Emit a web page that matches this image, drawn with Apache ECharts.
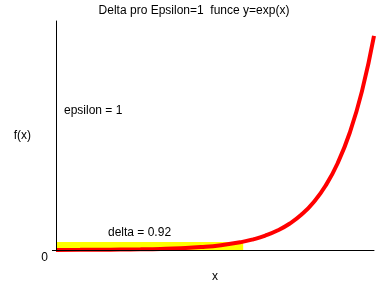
<!DOCTYPE html>
<html>
<head>
<meta charset="utf-8">
<script src="https://cdn.jsdelivr.net/npm/echarts@6/dist/echarts.min.js"></script>
<style>html,body{margin:0;padding:0;background:#fff}#c{width:388px;height:288px}</style>
</head>
<body>
<div id="c"></div>
<script>
// curve samples y = exp(x)
var xValues = [-4.6, -4.0, -3.5, -3.0, -2.5, -2.0, -1.5, -1.0, -0.5, 0, 0.3, 0.6, 0.9, 1.2, 1.5, 1.8, 2.1, 2.4, 2.7, 3.0, 3.3];
var yValues = [0.010, 0.018, 0.030, 0.050, 0.082, 0.135, 0.223, 0.368, 0.607, 1.000, 1.350, 1.822, 2.460, 3.320, 4.482, 6.050, 8.166, 11.023, 14.880, 20.086, 27.113];
// yellow band: x from start to delta end, height epsilon
var bandX = [-4.6, 0.05];
var bandY = [0, 1];
var yTickValues = [0];
var titleText = 'Delta pro Epsilon=1  funce y=exp(x)';
var epsilonText = 'epsilon = 1';
var deltaText = 'delta = 0.92';

var FONT = '"Liberation Sans", Arial, sans-serif';
var pts = xValues.map(function (x, i) { return [x, yValues[i]]; });

var chart = echarts.init(document.getElementById('c'), null, {renderer: 'canvas'});
chart.setOption({
  backgroundColor: '#ffffff',
  animation: false,
  title: {
    text: titleText, left: 'center', top: 0,
    textStyle: {fontSize: 12, fontWeight: 'normal', color: '#000', fontFamily: FONT}
  },
  grid: {left: 56, right: 14, top: 21, bottom: 36},
  xAxis: {
    type: 'value', min: -4.6, max: 3.3, z: 10,
    name: 'x', nameLocation: 'middle', nameGap: 21,
    nameTextStyle: {fontSize: 12, color: '#000', fontFamily: FONT},
    axisLine: {show: true, onZero: false, lineStyle: {color: '#000', width: 1}},
    axisTick: {show: false}, axisLabel: {show: false}, splitLine: {show: false}
  },
  yAxis: {
    type: 'value', min: 0, max: 29, z: 10,
    name: 'f(x)', nameLocation: 'middle', nameRotate: 0, nameGap: 25,
    nameTextStyle: {fontSize: 12, color: '#000', fontFamily: FONT},
    axisLine: {show: true, onZero: false, lineStyle: {color: '#000', width: 1}},
    axisTick: {show: true, length: 4, customValues: yTickValues, lineStyle: {color: '#000', width: 1}},
    axisLabel: {show: true, customValues: yTickValues, margin: 8, verticalAlign: 'top',
      padding: [2, 0, 0, 0],
      fontSize: 12, color: '#000', fontFamily: FONT},
    splitLine: {show: false}
  },
  series: [{
    type: 'line', data: pts, smooth: true, showSymbol: false,
    lineStyle: {color: '#ff0000', width: 4},
    markArea: {
      silent: true,
      itemStyle: {color: '#ffff00', opacity: 1},
      data: [[{coord: [bandX[0], bandY[0]]}, {coord: [bandX[1], bandY[1]]}]]
    }
  }],
  graphic: [
    {type: 'text', left: 64, top: 105, style: {text: epsilonText, fill: '#000', font: '12px ' + FONT}},
    {type: 'text', left: 108, top: 227, style: {text: deltaText, fill: '#000', font: '12px ' + FONT}}
  ]
});
</script>
</body>
</html>
